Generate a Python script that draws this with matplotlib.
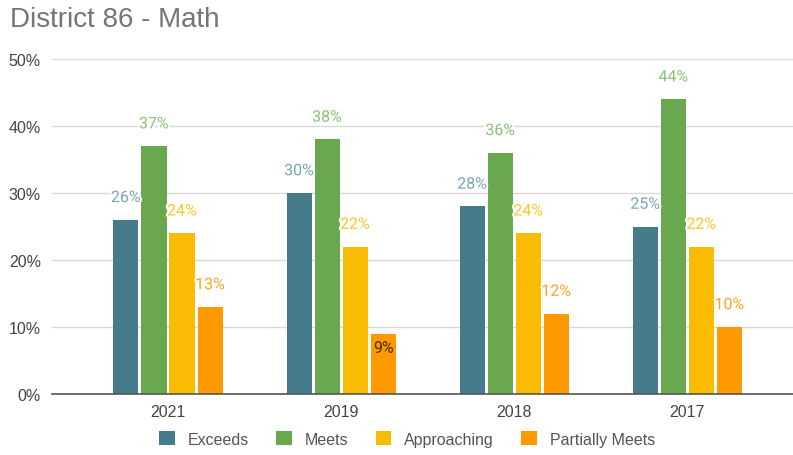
import numpy as np
import matplotlib.pyplot as plt
import matplotlib.patheffects as pe

# data
years = ['2021', '2019', '2018', '2017']
series = ['Exceeds', 'Meets', 'Approaching', 'Partially Meets']
exceeds = [26, 30, 28, 25]
meets = [37, 38, 36, 44]
approaching = [24, 22, 24, 22]
partially = [13, 9, 12, 10]
yticks = [0, 10, 20, 30, 40, 50]

values = [exceeds, meets, approaching, partially]
bar_colors = ['#457b8a', '#6aa84f', '#f9bc02', '#ff9900']
label_colors = ['#78a6b6', '#8cc274', '#ffc61f', '#ffa31f']

plt.rcParams['font.family'] = ['Liberation Sans', 'DejaVu Sans']

fig = plt.figure(figsize=(7.93, 4.56), dpi=100)
ax = fig.add_axes([52/793, 61/456, 741/793, 335/456])

x = np.arange(len(years))
step = 0.162
width = 0.145

for i, (name, vals) in enumerate(zip(series, values)):
    pos = x + (i - 1.5) * step
    bars = ax.bar(pos, vals, width, color=bar_colors[i], label=name, zorder=3)
    for b, v in zip(bars, vals):
        cx = b.get_x() + b.get_width() / 2
        if v < 10:
            # small bar: label sits inside the top of the bar
            ax.annotate(f'{v}%', (cx, v), xytext=(0, -10), textcoords='offset points',
                        ha='center', va='center', fontsize=11.5, color='#4a3500',
                        family='Roboto', zorder=5)
        else:
            ax.annotate(f'{v}%', (cx, v), xytext=(0, 16), textcoords='offset points',
                        ha='center', va='center', fontsize=11.5, color=label_colors[i],
                        family='Roboto', zorder=5,
                        path_effects=[pe.withStroke(linewidth=3, foreground='white')])

ax.set_xlim(-0.67, 3.61)
ax.set_ylim(0, 50)
ax.set_yticks(yticks)
ax.set_yticklabels([f'{t}%' for t in yticks])
ax.set_xticks(x)
ax.set_xticklabels(years)
ax.grid(axis='y', color='#d9d9d9', linewidth=1, zorder=0)
for s in ['top', 'right', 'left']:
    ax.spines[s].set_visible(False)
ax.spines['bottom'].set_color('#555555')
ax.spines['bottom'].set_linewidth(1.2)
ax.spines['bottom'].set_zorder(4)
ax.tick_params(axis='both', length=0, labelsize=11.5, colors='#444444')
ax.tick_params(axis='y', pad=8)
ax.tick_params(axis='x', pad=7)

fig.text(10/793, 1 - 20/456, 'District 86 - Math', fontsize=20, color='#757575',
         ha='left', va='center')

fig.legend(loc='center', bbox_to_anchor=(407/793, 1 - 440/456), ncol=4, frameon=False,
           handlelength=1.0, handleheight=1.0, columnspacing=1.7, handletextpad=0.8,
           prop={'size': 11.5}, labelcolor='#555555')

fig.savefig('out.png', dpi=100)
